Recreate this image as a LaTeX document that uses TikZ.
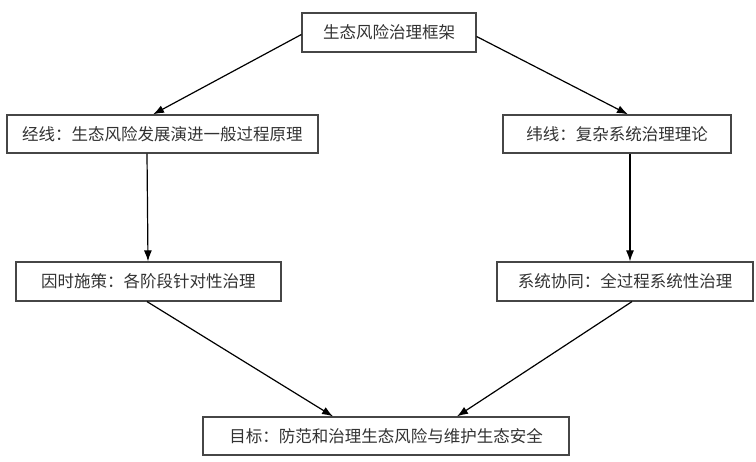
\documentclass[tikz,border=0pt]{standalone}
\usepackage{fontspec}
\newfontfamily\cjk{Noto Sans CJK SC}
\usetikzlibrary{arrows.meta}
\definecolor{boxline}{RGB}{70,70,70}
\definecolor{txt}{RGB}{50,50,50}
\begin{document}
\begin{tikzpicture}[x=1pt,y=-1pt,
  box/.style={draw=boxline,line width=1.2pt,inner sep=0pt,text=txt,
    font=\cjk\fontsize{16.5}{18}\selectfont,anchor=center},
  arr/.style={draw=black,line width=1.2pt,-{Latex[length=11pt,width=8pt]}}]
\useasboundingbox (0,0) rectangle (756,462);
\node[box,minimum width=174pt,minimum height=39pt] (top) at (389,32.5) {生态风险治理框架};
\node[box,minimum width=311pt,minimum height=38pt] (L1) at (162.5,134) {经线：生态风险发展演进一般过程原理};
\node[box,minimum width=228pt,minimum height=38pt] (R1) at (617,134) {纬线：复杂系统治理理论};
\node[box,minimum width=265pt,minimum height=39pt] (L2) at (148.5,281.5) {因时施策：各阶段针对性治理};
\node[box,minimum width=256pt,minimum height=39pt] (R2) at (625,281.5) {系统协同：全过程系统性治理};
\node[box,minimum width=366pt,minimum height=38pt] (B) at (386,436) {目标：防范和治理生态风险与维护生态安全};
\draw[arr] ([yshift=-2pt]top.west) -- ([xshift=-9.5pt]L1.north);
\draw[arr] ([yshift=-4pt]top.east) -- ([xshift=11pt]R1.north);
\draw[arr] ([xshift=-15.5pt]L1.south) -- ([xshift=-0.5pt]L2.north);
\draw[arr] ([xshift=13pt]R1.south) -- ([xshift=5pt]R2.north);
\draw[arr] ([xshift=-1.5pt]L2.south) -- ([xshift=-53pt]B.north);
\draw[arr] ([xshift=7pt]R2.south) -- ([xshift=71pt]B.north);
\end{tikzpicture}
\end{document}
